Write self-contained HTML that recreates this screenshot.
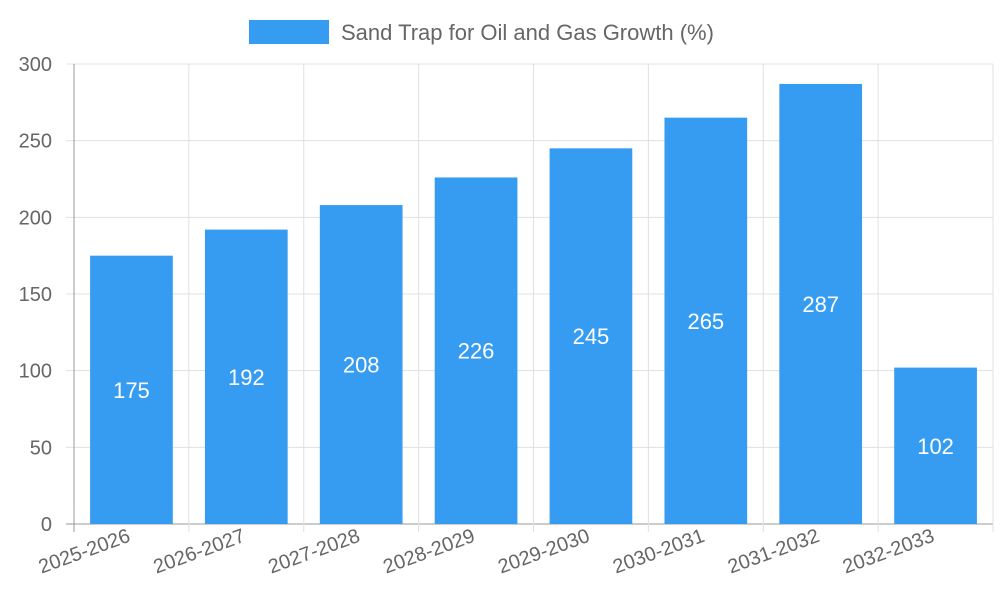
<!DOCTYPE html>
<html><head><meta charset="utf-8"><style>
body{margin:0;background:#fff;}
svg{display:block;font-family:"Liberation Sans",sans-serif;}
</style></head><body>
<svg id="chart" width="1000" height="600">
<g>
<rect x="249" y="20" width="80" height="24" fill="#369cf2"></rect>
<text x="341" y="40" font-size="22" fill="#666">Sand Trap for Oil and Gas Growth (%)</text>
</g>
<g id="grid"></g>
<g id="bars"></g>
<g id="axes"></g>
</svg>
<script>
const categories=["2025-2026","2026-2027","2027-2028","2028-2029","2029-2030","2030-2031","2031-2032","2032-2033"];
const values=[175,192,208,226,245,265,287,102];
const yTicks=[0,50,100,150,200,250,300];
const NS="http://www.w3.org/2000/svg";
const L=74,R=993,T=64,B=524,yMax=300;
const bw=(R-L)/categories.length;
function y(v){return B-(v/yMax)*(B-T);}
function x(i){return L+bw*i;}
function mk(tag,attrs,parent){const e=document.createElementNS(NS,tag);for(const k in attrs)e.setAttribute(k,attrs[k]);parent.appendChild(e);return e;}
const grid=document.getElementById('grid'),bars=document.getElementById('bars'),axes=document.getElementById('axes');
yTicks.forEach(t=>{
  const ln=mk('line',{x1:L-8,x2:R,y1:y(t),y2:y(t),stroke:t===0?'#999':'#e0e0e0','stroke-width':1},grid);
  
  
  const tx=mk('text',{x:52,y:y(t)+7,'text-anchor':'end','font-size':20,fill:'#666'},axes);
  tx.textContent=t;
  
  
});
for(let i=0;i<=categories.length;i++){
  const ln=mk('line',{x1:x(i),x2:x(i),y1:T,y2:B+8,stroke:i===0?'#999':'#e0e0e0','stroke-width':1},grid);
  
  
}
categories.forEach((c,i)=>{
  const cx=x(i)+bw/2,w=bw*0.72;
  const r=mk('rect',{x:cx-w/2,y:y(values[i]),width:w,height:B-y(values[i]),fill:'#369cf2'},bars);
  
  
  const lb=mk('text',{x:cx,y:(y(values[i])+B)/2+8,'text-anchor':'middle','font-size':22,fill:'#fff'},bars);
  lb.textContent=values[i];
  
  
  const tx=mk('text',{x:cx,y:541,'text-anchor':'end','font-size':20,fill:'#666',transform:`rotate(-20 ${cx} 541)`},axes);
  tx.textContent=c;
  
  
});
</script>
</body></html>
